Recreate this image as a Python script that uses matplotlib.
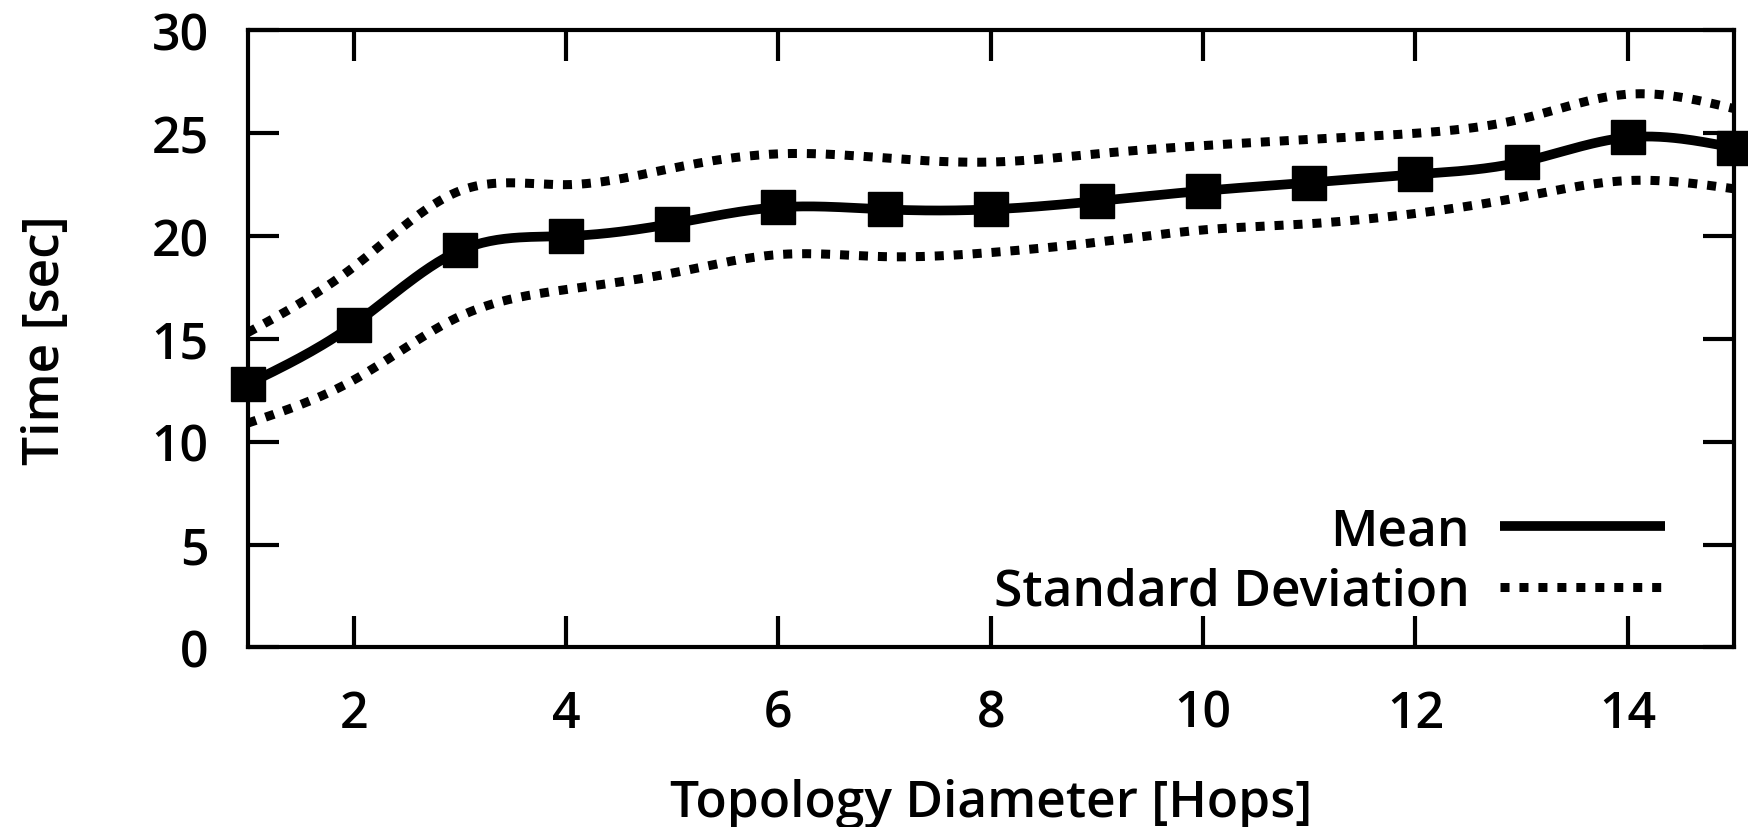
import numpy as np
import matplotlib
matplotlib.use("Agg")
import matplotlib.pyplot as plt

hops = [1, 2, 3, 4, 5, 6, 7, 8, 9, 10, 11, 12, 13, 14, 15]
mean = [12.8, 15.7, 19.3, 20.0, 20.6, 21.4, 21.3, 21.3, 21.7, 22.2, 22.6, 23.0, 23.6, 24.8, 24.3]
std_upper = [15.3, 18.5, 22.2, 22.5, 23.3, 24.0, 23.8, 23.6, 24.0, 24.4, 24.7, 25.0, 25.7, 26.9, 26.2]
std_lower = [10.9, 13.0, 16.1, 17.4, 18.2, 19.1, 19.0, 19.2, 19.7, 20.3, 20.6, 21.1, 21.9, 22.7, 22.3]
xticks = [2, 4, 6, 8, 10, 12, 14]
yticks = [0, 5, 10, 15, 20, 25, 30]


def spline(x, y, n=400):
    # natural cubic spline for smooth drawing (like gnuplot csplines)
    x = np.asarray(x, float); y = np.asarray(y, float)
    k = len(x); h = np.diff(x)
    A = np.zeros((k, k)); b = np.zeros(k)
    A[0, 0] = A[-1, -1] = 1
    for i in range(1, k - 1):
        A[i, i - 1] = h[i - 1]; A[i, i] = 2 * (h[i - 1] + h[i]); A[i, i + 1] = h[i]
        b[i] = 3 * ((y[i + 1] - y[i]) / h[i] - (y[i] - y[i - 1]) / h[i - 1])
    c = np.linalg.solve(A, b)
    xs = np.linspace(x[0], x[-1], n); ys = np.empty_like(xs)
    for j, xv in enumerate(xs):
        i = min(np.searchsorted(x, xv, side='right') - 1, k - 2)
        d = xv - x[i]
        bi = (y[i + 1] - y[i]) / h[i] - h[i] * (2 * c[i] + c[i + 1]) / 3
        di = (c[i + 1] - c[i]) / (3 * h[i])
        ys[j] = y[i] + bi * d + c[i] * d ** 2 + di * d ** 3
    return xs, ys


plt.rcParams['font.family'] = ['Open Sans', 'DejaVu Sans']
plt.rcParams['font.weight'] = 'semibold'
plt.rcParams['axes.labelweight'] = 'semibold'
fig = plt.figure(figsize=(17.48, 8.28), dpi=100)
ax = fig.add_axes([0.1416, 0.217, 0.8504, 0.745])

xs, ys = spline(hops, mean)
ax.plot(xs, ys, color='black', lw=7, solid_capstyle='butt', label='Mean')
ax.plot(hops, mean, linestyle='none', marker='s', ms=25, color='black', clip_on=False)
xs, ys = spline(hops, std_upper)
ax.plot(xs, ys, color='black', lw=6.5, linestyle=(0, (1, 1.1)), dash_capstyle='butt',
        label='Standard Deviation')
xs, ys = spline(hops, std_lower)
ax.plot(xs, ys, color='black', lw=6.5, linestyle=(0, (1, 1.1)), dash_capstyle='butt')

ax.set_xlim(1, 15)
ax.set_ylim(0, 30)
ax.set_xticks(xticks)
ax.set_yticks(yticks)
ax.tick_params(direction='in', length=22, width=3, top=True, right=True,
               labelsize=36)
ax.tick_params(axis='x', pad=30)
ax.tick_params(axis='y', pad=28)
for s in ax.spines.values():
    s.set_linewidth(3)

ax.set_xlabel('Topology Diameter [Hops]', fontsize=37, labelpad=28)
ax.set_ylabel('Time [sec]', fontsize=37, labelpad=58)

leg = ax.legend(loc='lower right', frameon=False, markerfirst=False, fontsize=37,
                handlelength=3.2, handletextpad=0.6, borderaxespad=0.2,
                labelspacing=0.2, bbox_to_anchor=(0.974, 0.0))

fig.savefig('out.png', dpi=100)
